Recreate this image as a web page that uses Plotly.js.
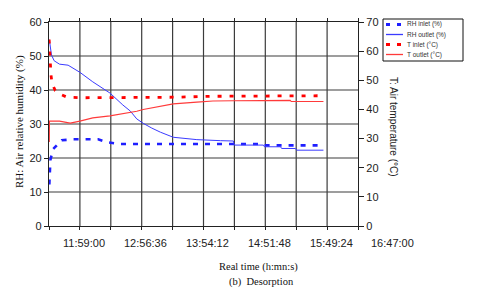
<!DOCTYPE html>
<html><head><meta charset="utf-8">
<script src="https://cdn.plot.ly/plotly-3.0.1.min.js"></script>
<style>html,body{margin:0;padding:0;background:#fff}#chart{width:480px;height:297px}</style>
</head><body><div id="chart"></div>
<script>
// ---- data (time of day, h:mm:ss) ----
const xTickLabels = ['11:59:00','12:56:36','13:54:12','14:51:48','15:49:24','16:47:00'];

const timeRHin = ['11:30:30','11:31:00','11:31:30','11:34:00','11:42:00','11:53:00','12:06:00','12:16:00','12:25:00','12:36:00','14:45:00','14:47:00','15:46:00'];
const rhInlet  = [12.2, 16.0, 19.4, 22.6, 25.2, 25.5, 25.6, 25.5, 24.6, 24.1, 24.1, 23.7, 23.7];

const timeRHout = ['11:30:30','11:31:30','11:32:30','11:35:00','11:40:00','11:48:00','11:59:00','12:11:00','12:27:00','12:39:00','12:46:00','12:52:00','12:58:00','13:06:00','13:14:00','13:26:00','13:48:00','14:10:00','14:22:00','14:23:00','14:50:00','14:51:00','15:06:00','15:07:00','15:20:00','15:21:00','15:46:00'];
const rhOutlet  = [54.8, 51.5, 50.3, 48.6, 47.6, 47.3, 45.2, 42.4, 39.1, 35.6, 33.8, 31.5, 30.2, 28.8, 27.6, 26.1, 25.4, 25.1, 25.0, 23.8, 23.8, 23.3, 23.3, 22.8, 22.8, 22.3, 22.3];

const timeTin = ['11:30:20','11:31:00','11:32:00','11:33:00','11:36:00','11:42:00','11:47:00','12:00:00','13:00:00','13:30:00','14:00:00','15:00:00','15:46:00'];
const tInlet  = [64.0, 58.0, 52.0, 49.0, 46.5, 45.0, 44.2, 44.0, 44.0, 44.2, 44.5, 44.5, 44.7];

const timeTout = ['11:30:30','11:30:40','11:40:00','11:50:00','11:59:00','12:11:00','12:27:00','12:39:00','12:52:00','12:58:00','13:14:00','13:26:00','13:48:00','14:03:00','14:22:00','15:15:00','15:16:00','15:46:00'];
const tOutlet  = [28.8, 36.0, 36.0, 35.3, 36.0, 37.1, 37.8, 38.5, 39.4, 40.0, 41.2, 41.9, 42.5, 42.9, 43.0, 43.1, 42.7, 42.7];

const seriesNames = ['RH inlet (%)','RH outlet (%)','T inlet (°C)','T outlet (°C)'];

// ---- helpers ----
function toH(s){const p=s.split(':').map(Number);return p[0]+(p[1]||0)/60+(p[2]||0)/3600;}
const X0 = toH('11:30:12'), DIV = 0.48, X1 = X0 + 10*DIV;

const M = {l:49, r:122, t:22, b:71};
const W = 480, H = 297;
const PW = W - M.l - M.r, PH = H - M.t - M.b;
const px = x => (x - M.l)/PW;          // pixel -> paper x
const py = y => (H - M.b - y)/PH;      // pixel -> paper y

const blue = '#1f1fff', blueLine = '#3b3bff', red = '#ff0000', redLine = '#ff3a3a';
const styles = [
  {color: blue, width: 2.6, dash: '5px,7px'},
  {color: blueLine, width: 1},
  {color: red, width: 2.8, dash: '4px,8px'},
  {color: redLine, width: 1.1}
];

const traces = [
  {x: timeRHin.map(toH), y: rhInlet, yaxis: 'y', line: styles[0]},
  {x: timeRHout.map(toH), y: rhOutlet, yaxis: 'y', line: styles[1]},
  {x: timeTin.map(toH), y: tInlet, yaxis: 'y2', line: styles[2]},
  {x: timeTout.map(toH), y: tOutlet, yaxis: 'y2', line: styles[3]}
].map((t,i)=>Object.assign(t,{type:'scatter',mode:'lines',name:seriesNames[i],showlegend:false,hoverinfo:'skip'}));

const sans = 'Liberation Sans, Arial, sans-serif';
const serif = 'Liberation Serif, Times New Roman, serif';
const tickFont = {family: sans, size: 11, color: '#222'};
const grid = '#3c3c3c';

const shapes = [];
// gridlines at axis ticks
for (let k = 1; k < 10; k++) {
  const v = X0 + k*DIV;
  shapes.push({type:'line', xref:'x', yref:'paper', x0:v, x1:v, y0:0, y1:1, line:{color:grid, width:1.2}, layer:'below'});
}
for (let v = 10; v < 60; v += 10) {
  shapes.push({type:'line', xref:'paper', yref:'y', x0:0, x1:1, y0:v, y1:v, line:{color:grid, width:1.2}, layer:'below'});
}

const annotations = [];
xTickLabels.forEach(lbl=>{
  const v = toH(lbl);
  annotations.push({xref:'paper', yref:'paper', x:(v-X0)/(X1-X0), y:py(243), xshift:4,
    text:lbl, showarrow:false, xanchor:'center', yanchor:'middle', font:tickFont});
});
annotations.push({xref:'paper',yref:'paper',x:px(258),y:py(267),text:'Real time (h:mn:s)',showarrow:false,
  xanchor:'center',yanchor:'middle',font:{family:serif,size:10.5,color:'#111'}});
annotations.push({xref:'paper',yref:'paper',x:px(261),y:py(282),text:'(b)\u00a0\u00a0Desorption',showarrow:false,
  xanchor:'center',yanchor:'middle',font:{family:serif,size:10.5,color:'#111'}});
annotations.push({xref:'paper',yref:'paper',x:px(19),y:py(122),text:'RH: Air relative humidity (%)',showarrow:false,
  textangle:-90,xanchor:'center',yanchor:'middle',font:{family:serif,size:11,color:'#111'}});
annotations.push({xref:'paper',yref:'paper',x:px(393),y:py(127),text:'T: Air temperature (°C)',showarrow:false,
  textangle:90,xanchor:'center',yanchor:'middle',font:{family:sans,size:10,color:'#222'}});

// custom legend
shapes.push({type:'rect',xref:'paper',yref:'paper',x0:px(383),x1:px(463),y0:py(61),y1:py(19),
  line:{color:'#111',width:1},fillcolor:'#fff',layer:'above'});
const rowY = [24.5, 34.5, 44.5, 54.5];
seriesNames.forEach((n,i)=>{
  shapes.push({type:'line',xref:'paper',yref:'paper',x0:px(386),x1:px(403),y0:py(rowY[i]),y1:py(rowY[i]),
    line:Object.assign({},styles[i],{width: styles[i].dash?3:1.3, dash: styles[i].dash? '4px,7px':'solid'}),layer:'above'});
  annotations.push({xref:'paper',yref:'paper',x:px(405),y:py(rowY[i]),text:n,showarrow:false,
    xanchor:'left',yanchor:'middle',font:{family:sans,size:6.5,color:'#333'}});
});

const layout = {
  width: W, height: H, margin: M, paper_bgcolor:'#ffffff', plot_bgcolor:'#ffffff', showlegend:false,
  xaxis: {range:[X0,X1], tick0:X0, dtick:DIV, showticklabels:false, showgrid:false,
    zeroline:false, showline:true, linecolor:'#222', linewidth:1.2, mirror:'ticks', ticks:'outside', ticklen:3, tickcolor:'#222'},
  yaxis: {range:[0,60], tick0:0, dtick:10, showgrid:false, zeroline:false, showline:true,
    linecolor:'#222', linewidth:1.2, ticks:'outside', ticklen:4, tickcolor:'#222', tickfont:tickFont},
  yaxis2: {range:[0,70], tick0:0, dtick:10, overlaying:'y', side:'right', showgrid:false, zeroline:false, showline:true,
    linecolor:'#222', linewidth:1.2, ticks:'outside', ticklen:5, tickcolor:'#222', tickfont:tickFont},
  shapes, annotations
};
Plotly.newPlot('chart', traces, layout, {displayModeBar:false});
</script></body></html>
